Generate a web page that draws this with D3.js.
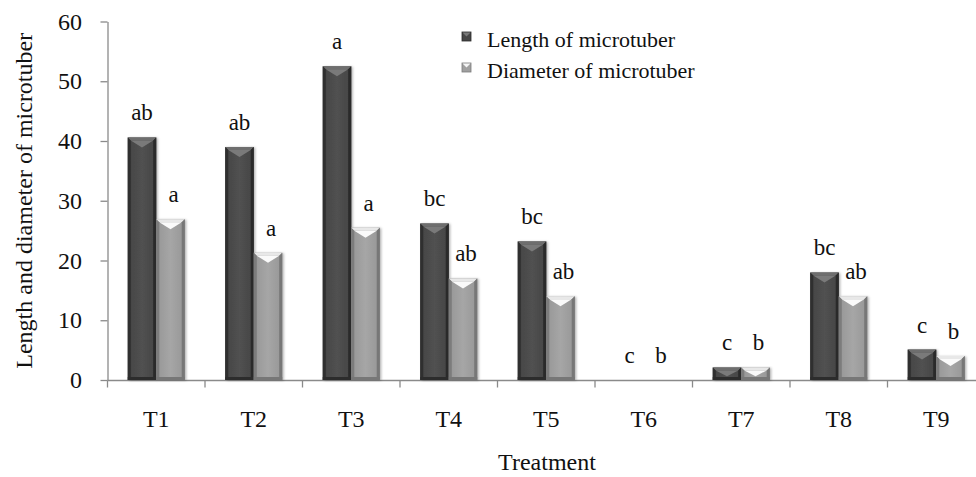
<html>
<head>
<script src="https://cdnjs.cloudflare.com/ajax/libs/d3/7.8.5/d3.min.js"></script>
<style>
    body { margin: 0; background: #fff; }
    svg { display: block; }
    .axis path, .axis line { stroke: #8a8a8a; stroke-width: 1.3; }
</style>
</head>
<body>
<script type="text/javascript">
    var treatments = ["T1", "T2", "T3", "T4", "T5", "T6", "T7", "T8", "T9"];
    var seriesNames = ["Length of microtuber", "Diameter of microtuber"];
    var lengthValues = [40.6, 39.0, 52.5, 26.2, 23.2, 0, 2.1, 18.0, 5.1];
    var diameterValues = [26.9, 21.3, 25.5, 17.0, 14.0, 0, 2.1, 14.0, 4.0];
    var lengthLetters = ["ab", "ab", "a", "bc", "bc", "c", "c", "bc", "c"];
    var diameterLetters = ["a", "a", "a", "ab", "ab", "b", "b", "ab", "b"];
    var yTicks = [0, 10, 20, 30, 40, 50, 60];

    var width = 976, height = 477;

    var svg = d3.select("body").append("svg")
        .attr("width", width)
        .attr("height", height);

    var defs = svg.append("defs");

    // horizontal shading for each series
    function shade(id, stops) {
        var g = defs.append("linearGradient").attr("id", id)
            .attr("x1", "0").attr("x2", "1").attr("y1", "0").attr("y2", "0");
        stops.forEach(function (s) {
            g.append("stop").attr("offset", s[0]).attr("stop-color", s[1]);
        });
    }
    shade("gradDark", [[0, "#333"], [0.12, "#474747"], [0.5, "#515151"], [0.88, "#474747"], [1, "#2e2e2e"]]);
    shade("gradLight", [[0, "#7e7e7e"], [0.12, "#9a9a9a"], [0.5, "#a6a6a6"], [0.88, "#9a9a9a"], [1, "#7a7a7a"]]);

    var shadow = defs.append("filter").attr("id", "shadow")
        .attr("x", "-20%").attr("y", "-10%").attr("width", "150%").attr("height", "130%");
    shadow.append("feDropShadow").attr("dx", 1.5).attr("dy", 0.5).attr("stdDeviation", 1.2)
        .attr("flood-color", "#000").attr("flood-opacity", 0.3);

    var y = d3.scaleLinear().domain([0, 60]).range([380, 21.5]);

    var x0 = d3.scaleBand().domain(treatments).range([107.5, 985]).padding(0);
    var x1 = d3.scaleBand().domain(seriesNames)
        .range([(x0.bandwidth() - 57) / 2, (x0.bandwidth() + 57) / 2]).padding(0);

    var data = treatments.map(function (t, i) {
        return {
            t: t,
            vals: [
                { s: seriesNames[0], v: lengthValues[i], lab: lengthLetters[i], k: 0 },
                { s: seriesNames[1], v: diameterValues[i], lab: diameterLetters[i], k: 1 }
            ]
        };
    });

    // axes
    var yAxis = svg.append("g").attr("class", "axis")
        .attr("transform", "translate(107.5,0)")
        .call(d3.axisLeft(y).tickValues(yTicks).tickSize(7).tickSizeOuter(0).tickPadding(18.5));

    var xAxis = svg.append("g").attr("class", "axis")
        .attr("transform", "translate(0,380.5)")
        .call(d3.axisBottom(x0).tickSize(0).tickPadding(29.5));
    xAxis.select(".domain").attr("d", "M107.5,0H976");

    xAxis.selectAll(".sep")
        .data(treatments)
        .enter().append("line")
        .attr("class", "sep")
        .attr("x1", function (d) { return x0(d); })
        .attr("x2", function (d) { return x0(d); })
        .attr("y1", 0).attr("y2", 7);

    svg.selectAll(".axis").attr("font-size", 24);

    // bars
    var groups = svg.append("g").selectAll("g")
        .data(data)
        .enter().append("g")
        .attr("transform", function (d) { return "translate(" + x0(d.t) + ",0)"; });

    var bars = groups.selectAll("g.bar")
        .data(function (d) { return d.vals; })
        .enter().append("g")
        .attr("class", "bar");

    bars.each(function (d) {
        var g = d3.select(this);
        if (d.v <= 0) return;
        var bx = x1(d.s), bw = x1.bandwidth();
        var top = y(d.v), base = y(0);
        var h = base - top;
        var bev = Math.min(10, h * 0.7);
        var dark = d.k === 0;

        g.append("rect")
            .attr("x", bx).attr("y", top)
            .attr("width", bw).attr("height", h)
            .attr("fill", dark ? "url(#gradDark)" : "url(#gradLight)")
            .attr("filter", "url(#shadow)");

        // bevelled top
        g.append("path")
            .attr("d", "M" + bx + "," + top + "L" + (bx + bw) + "," + top +
                "L" + (bx + bw - 3) + "," + (top + 3) + "L" + (bx + 3) + "," + (top + 3) + "Z")
            .attr("fill", dark ? "#6e6e6e" : "#e8e8e8");
        g.append("path")
            .attr("d", "M" + (bx + 3) + "," + (top + 3) + "L" + (bx + bw - 3) + "," + (top + 3) +
                "L" + (bx + bw / 2) + "," + (top + bev) + "Z")
            .attr("fill", dark ? "#7a7a7a" : "#fafafa");
        g.append("path")
            .attr("d", "M" + bx + "," + top + "L" + (bx + 3) + "," + (top + 3) +
                "L" + (bx + 3) + "," + (base - 3) + "L" + bx + "," + base + "Z")
            .attr("fill", dark ? "#2f2f2f" : "#7c7c7c");
        g.append("path")
            .attr("d", "M" + (bx + bw) + "," + top + "L" + (bx + bw - 3) + "," + (top + 3) +
                "L" + (bx + bw - 3) + "," + (base - 3) + "L" + (bx + bw) + "," + base + "Z")
            .attr("fill", dark ? "#2a2a2a" : "#777");
        g.append("rect")
            .attr("x", bx).attr("y", base - 3)
            .attr("width", bw).attr("height", 3)
            .attr("fill", dark ? "#2c2c2c" : "#777");
    });

    // significance letters
    bars.append("text")
        .attr("x", function (d) { return x1(d.s) + x1.bandwidth() / 2 + (d.k === 1 ? 3 : 0); })
        .attr("y", function (d) { return y(d.v) - 17; })
        .attr("text-anchor", "middle")
        .attr("font-size", 23)
        .text(function (d) { return d.lab; });

    // axis titles
    svg.append("text")
        .attr("transform", "translate(32," + ((y(0) + y(60)) / 2) + ") rotate(-90)")
        .attr("text-anchor", "middle")
        .attr("font-size", 24)
        .text("Length and diameter of microtuber");

    svg.append("text")
        .attr("x", 547).attr("y", 470)
        .attr("text-anchor", "middle")
        .attr("font-size", 24)
        .text("Treatment");

    // legend
    var legend = svg.append("g").attr("transform", "translate(462,0)");
    var legendRows = legend.selectAll("g")
        .data(seriesNames)
        .enter().append("g")
        .attr("transform", function (d, i) { return "translate(0," + (i * 31) + ")"; });

    legendRows.append("rect")
        .attr("x", 0).attr("y", 32)
        .attr("width", 9).attr("height", 9)
        .attr("fill", function (d, i) { return i === 0 ? "#474747" : "#a0a0a0"; })
        .attr("stroke", function (d, i) { return i === 0 ? "#2a2a2a" : "#7a7a7a"; })
        .attr("stroke-width", 0.8);
    legendRows.append("path")
        .attr("d", "M0.5,32.5L8.5,32.5L4.5,36.5Z")
        .attr("fill", function (d, i) { return i === 0 ? "#7a7a7a" : "#f5f5f5"; });

    legendRows.append("text")
        .attr("x", 25).attr("y", 47)
        .attr("font-size", 22)
        .text(function (d) { return d; });

    // same serif face on every label
    svg.selectAll("text")
        .style("font-family", "'Liberation Serif', serif")
        .style("fill", "#111");
</script>
</body>
</html>
